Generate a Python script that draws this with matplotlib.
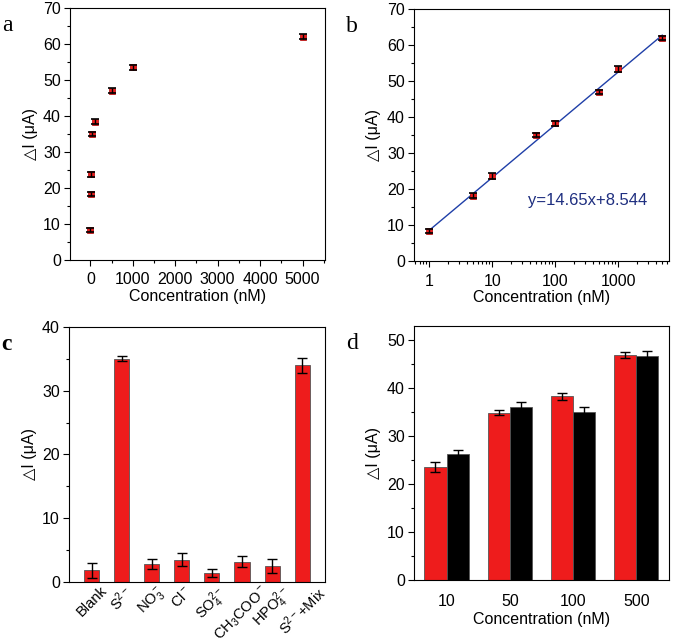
import numpy as np
import matplotlib
matplotlib.use('Agg')
import matplotlib.pyplot as plt
from matplotlib.ticker import MultipleLocator, LogLocator, NullFormatter

plt.rcParams['font.family'] = ['Liberation Sans', 'DejaVu Sans']
plt.rcParams['mathtext.fontset'] = 'custom'
plt.rcParams['mathtext.rm'] = 'Liberation Sans'
plt.rcParams['mathtext.it'] = 'Liberation Sans'
plt.rcParams['font.size'] = 11.5

# a / b : response vs concentration
conc = [1, 5, 10, 50, 100, 500, 1000, 5000]
resp = [8.3, 18.2, 23.7, 35.0, 38.3, 47.0, 53.4, 62.0]
resp_err = [0.6, 0.6, 0.8, 0.6, 0.7, 0.6, 0.8, 0.6]
slope, intercept = 14.65, 8.544

# c : selectivity
ions = ['Blank', 'S$^{2-}$', 'NO$_3^-$', 'Cl$^-$', 'SO$_4^{2-}$',
        'CH$_3$COO$^-$', 'HPO$_4^{2-}$', 'S$^{2-}$+Mix']
ion_resp = [1.8, 35.0, 2.8, 3.5, 1.4, 3.2, 2.5, 34.0]
ion_err = [1.2, 0.4, 0.8, 1.0, 0.6, 0.8, 1.1, 1.2]

# d : comparison
groups = ['10', '50', '100', '500']
red_vals = [23.6, 34.9, 38.3, 47.0]
red_err = [1.0, 0.5, 0.7, 0.6]
black_vals = [26.3, 36.1, 35.0, 46.8]
black_err = [0.8, 1.0, 1.0, 0.9]

ylab = '\u25b3I (\u03bcA)'
red = '#ee1c1c'

fig = plt.figure(figsize=(6.73, 6.43), dpi=100)
ax_a = fig.add_axes([0.104, 0.596, 0.379, 0.392])
ax_b = fig.add_axes([0.615, 0.594, 0.379, 0.392])
ax_c = fig.add_axes([0.1025, 0.095, 0.380, 0.3966])
ax_d = fig.add_axes([0.615, 0.098, 0.379, 0.395])

def style(ax):
    ax.tick_params(which='both', direction='out', top=False, right=False)
    ax.tick_params(which='major', length=4, width=0.8, pad=2.5)
    ax.tick_params(which='minor', length=2.5, width=0.8)
    ax.tick_params(axis='x', which='major', pad=5)
    ax.set_ylabel(ylab, fontsize=11.5, labelpad=4)

def points(ax):
    ax.plot(conc, resp, 's', ms=5, mfc=red, mec='#aa0000', mew=0.5, zorder=3)
    ax.errorbar(conc, resp, yerr=resp_err, fmt='none', ecolor='k',
                elinewidth=1, capsize=2.8, capthick=1.2, zorder=4)

# panel a
points(ax_a)
ax_a.set_xlim(-480, 5530)
ax_a.set_ylim(0, 70)
ax_a.xaxis.set_major_locator(MultipleLocator(1000))
ax_a.xaxis.set_minor_locator(MultipleLocator(500))
ax_a.yaxis.set_major_locator(MultipleLocator(10))
ax_a.yaxis.set_minor_locator(MultipleLocator(5))
ax_a.set_xlabel('Concentration (nM)', labelpad=1)
style(ax_a)

# panel b
xfit = np.array([conc[0], conc[-1]])
ax_b.plot(xfit, slope * np.log10(xfit) + intercept, color='#1f3fa8', lw=1, zorder=2)
points(ax_b)
ax_b.set_xscale('log')
ax_b.set_xlim(0.57, 6400)
ax_b.set_ylim(0, 70)
ax_b.xaxis.set_minor_locator(LogLocator(base=10, subs=np.arange(2, 10), numticks=20))
ax_b.xaxis.set_minor_formatter(NullFormatter())
ax_b.set_xticks([1, 10, 100, 1000])
ax_b.set_xticklabels(['1', '10', '100', '1000'])
ax_b.yaxis.set_major_locator(MultipleLocator(10))
ax_b.yaxis.set_minor_locator(MultipleLocator(5))
ax_b.set_xlabel('Concentration (nM)', labelpad=1)
ax_b.text(0.447, 0.24, 'y=%.2fx+%.3f' % (slope, intercept), transform=ax_b.transAxes,
          color='#1f2f80', fontsize=12, va='center')
style(ax_b)

# panel c
xc = np.arange(len(ions))
ax_c.bar(xc, ion_resp, width=0.5, color=red, edgecolor='#555555', linewidth=0.6)
ax_c.errorbar(xc, ion_resp, yerr=ion_err, fmt='none', ecolor='k',
              elinewidth=1, capsize=3.5, capthick=1)
ax_c.set_xlim(-0.75, 7.75)
ax_c.set_ylim(0, 40)
ax_c.set_xticks(xc)
ax_c.set_xticklabels(ions, rotation=45, ha='center', va='top', fontsize=10.5)
ax_c.yaxis.set_major_locator(MultipleLocator(10))
ax_c.yaxis.set_minor_locator(MultipleLocator(5))
style(ax_c)
ax_c.tick_params(axis='x', which='both', length=0, pad=1)

# panel d
xd = np.arange(len(groups))
w = 0.35
ax_d.bar(xd - w / 2, red_vals, width=w, color=red, edgecolor='#555555', linewidth=0.6)
ax_d.bar(xd + w / 2, black_vals, width=w, color='k', edgecolor='#555555', linewidth=0.6)
ax_d.errorbar(xd - w / 2, red_vals, yerr=red_err, fmt='none', ecolor='k',
              elinewidth=1, capsize=3.5, capthick=1)
ax_d.errorbar(xd + w / 2, black_vals, yerr=black_err, fmt='none', ecolor='k',
              elinewidth=1, capsize=3.5, capthick=1)
ax_d.set_xlim(-0.516, 3.516)
ax_d.set_ylim(0, 53)
ax_d.set_xticks(xd)
ax_d.set_xticklabels(groups)
ax_d.yaxis.set_major_locator(MultipleLocator(10))
ax_d.yaxis.set_minor_locator(MultipleLocator(5))
ax_d.set_xlabel('Concentration (nM)', labelpad=2)
style(ax_d)
ax_d.tick_params(axis='x', which='both', length=0, pad=10)

# panel letters
for ax, letter, bold in [(ax_a, 'a', False), (ax_b, 'b', False), (ax_c, 'c', True), (ax_d, 'd', False)]:
    ax.text(-0.265, 0.93, letter, transform=ax.transAxes, fontsize=17,
            family='Liberation Serif', fontweight='bold' if bold else 'normal',
            va='center', ha='left')

fig.savefig('out.png', dpi=100)
